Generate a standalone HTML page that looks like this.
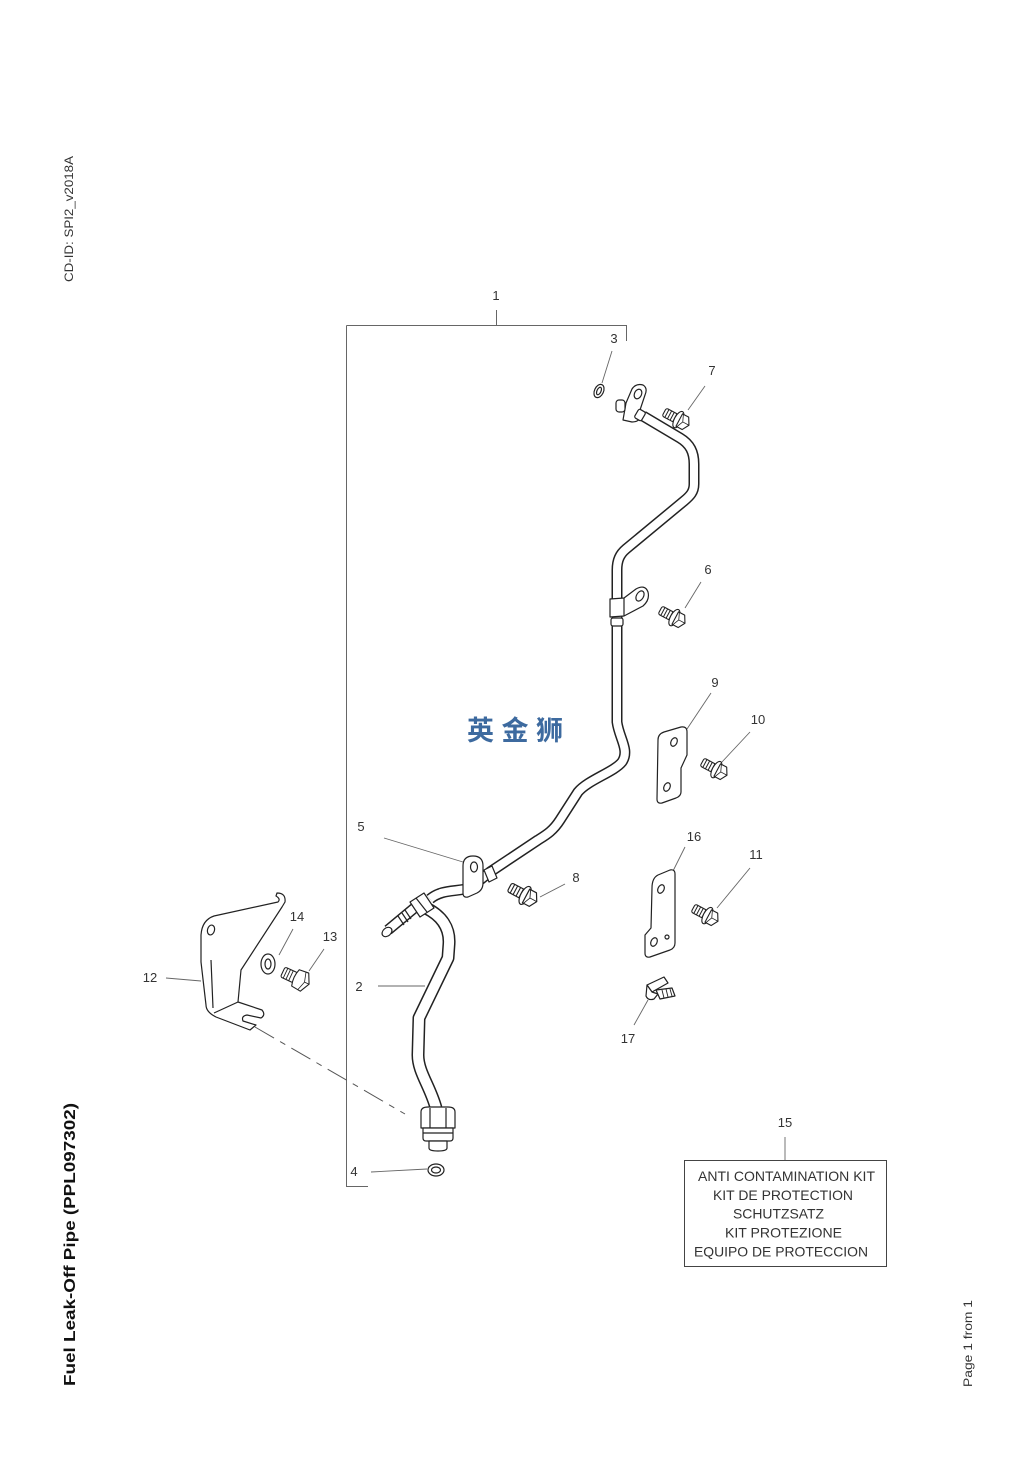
<!DOCTYPE html>
<html><head><meta charset="utf-8"><style>
html,body{margin:0;padding:0;background:#fff;}
svg{display:block;}
text{font-family:"Liberation Sans",Arial,sans-serif;fill:#333;}
</style></head><body>
<svg width="1033" height="1461" viewBox="0 0 1033 1461" xmlns="http://www.w3.org/2000/svg">
<rect width="1033" height="1461" fill="#fff"/>

<!-- side texts -->
<text transform="translate(73,282) rotate(-90)" font-size="12" textLength="126" lengthAdjust="spacingAndGlyphs">CD-ID: SPI2_v2018A</text>
<text transform="translate(75,1386) rotate(-90)" font-size="16" font-weight="bold" textLength="283" lengthAdjust="spacingAndGlyphs" style="fill:#111">Fuel Leak-Off Pipe (PPL097302)</text>
<text transform="translate(972,1387) rotate(-90)" font-size="12" textLength="87" lengthAdjust="spacingAndGlyphs">Page 1 from 1</text>

<!-- bracket for item 1 -->
<g stroke="#666" stroke-width="1" fill="none">
<path d="M346.5 325.5 H626.5 V341"/>
<path d="M496.5 310 V325.5"/>
<path d="M346.5 325.5 V1186.5 H368"/>
</g>

<!-- leaders -->
<g stroke="#666" stroke-width="0.9" fill="none">
<path d="M612 351 L602 383"/>
<path d="M705 386 L688 410"/>
<path d="M701 582 L685 608"/>
<path d="M711 693 L687 729"/>
<path d="M750 732 L721 763"/>
<path d="M685 847 L673 871"/>
<path d="M750 868 L717 908"/>
<path d="M634 1025 L648 1000"/>
<path d="M384 838 L463 862"/>
<path d="M565 884 L540 897"/>
<path d="M293 929 L279 955"/>
<path d="M324 949 L309 971"/>
<path d="M166 978 L201 981"/>
<path d="M378 986 L425 986"/>
<path d="M371 1172 L427 1169"/>
<path d="M785 1137 V1160"/>
</g>

<!-- dash-dot alignment line -->
<path d="M255 1027 L405 1114" stroke="#555" stroke-width="1" fill="none" stroke-dasharray="22 7 6 7"/>

<!-- labels -->
<g font-size="13" text-anchor="middle">
<text x="496" y="300">1</text>
<text x="614" y="343">3</text>
<text x="712" y="375">7</text>
<text x="708" y="574">6</text>
<text x="715" y="687">9</text>
<text x="758" y="724">10</text>
<text x="694" y="841">16</text>
<text x="756" y="859">11</text>
<text x="628" y="1043">17</text>
<text x="361" y="831">5</text>
<text x="576" y="882">8</text>
<text x="297" y="921">14</text>
<text x="330" y="941">13</text>
<text x="150" y="982">12</text>
<text x="359" y="991">2</text>
<text x="354" y="1176">4</text>
<text x="785" y="1127">15</text>
</g>

<!-- kit box -->
<rect x="684.5" y="1160.5" width="202" height="106" fill="none" stroke="#444" stroke-width="1"/>
<g font-size="14">
<text x="698" y="1181" textLength="177" lengthAdjust="spacingAndGlyphs">ANTI CONTAMINATION KIT</text>
<text x="713" y="1200" textLength="140" lengthAdjust="spacingAndGlyphs">KIT DE PROTECTION</text>
<text x="733" y="1218.5" textLength="91" lengthAdjust="spacingAndGlyphs">SCHUTZSATZ</text>
<text x="725" y="1237.5" textLength="117" lengthAdjust="spacingAndGlyphs">KIT PROTEZIONE</text>
<text x="694" y="1256.5" textLength="174" lengthAdjust="spacingAndGlyphs">EQUIPO DE PROTECCION</text>
</g>

<!-- watermark -->
<text x="467" y="740" font-size="27" font-weight="bold" textLength="96" lengthAdjust="spacing" style="font-family:'Noto Sans CJK SC','WenQuanYi Zen Hei',sans-serif;fill:#3d6a9f">英金狮</text>

<!-- ===== pipes ===== -->
<g fill="none" stroke-linecap="butt" stroke-linejoin="round">
<path d="M643 416 L680 438 C690 444 694 452 694 464 L694 484 C694 492 690 496 684 501 L626 549 C620 554 617 560 617 570 L617 722 C619 738 630 750 622 762 C614 772 588 780 578 792 L560 820 C553 831 546 835 538 840 L490 872 L470 888 C456 892 442 889 430 899" stroke="#222" stroke-width="11"/>
<path d="M643 416 L680 438 C690 444 694 452 694 464 L694 484 C694 492 690 496 684 501 L626 549 C620 554 617 560 617 570 L617 722 C619 738 630 750 622 762 C614 772 588 780 578 792 L560 820 C553 831 546 835 538 840 L490 872 L470 888 C456 892 442 889 430 899" stroke="#fff" stroke-width="8"/>
<path d="M426 908 C442 916 450 928 449 944 L448 958 L419 1018 L418 1055 C418 1072 430 1086 436 1108" stroke="#222" stroke-width="13"/>
<path d="M426 908 C442 916 450 928 449 944 L448 958 L419 1018 L418 1055 C418 1072 430 1086 436 1108" stroke="#fff" stroke-width="10"/>
<path d="M418 905 L388 930" stroke="#222" stroke-width="11"/>
<path d="M418 905 L388 930" stroke="#fff" stroke-width="8"/>
</g>

<g stroke="#222" stroke-width="1.2" fill="#fff" stroke-linejoin="round">
<ellipse cx="387" cy="932" rx="4" ry="5.5" transform="rotate(50 387 932)"/>
<path d="M398 916 L404 925" fill="none"/>
<path d="M402 913 L408 922" fill="none"/>
<path d="M405 910 L411 919" fill="none"/>
<path d="M410 902 L424 893 L434 908 L420 917 Z"/>
<path d="M416 898 L427 912" fill="none"/>
<path d="M484 870 L492 866 L497 878 L489 882 Z"/>

<!-- clip 5 -->
<path d="M463 893 L463 866 Q463 856 473 856 Q483 856 483 866 L483 883 Q483 890 477 893 L468 897 Q463 898 463 893 Z"/>
<ellipse cx="474" cy="867" rx="3.5" ry="5"/>

<!-- clip 6 -->
<path d="M610 599 L624 598 L636 589 Q645 584 648 592 Q650 600 643 606 L624 616 L610 617 Z"/>
<path d="M624 598 L624 616" fill="none"/>
<ellipse cx="640" cy="596" rx="3.5" ry="5.5" transform="rotate(30 640 596)"/>
<rect x="611" y="618" width="12" height="8" rx="2"/>

<!-- top flange -->
<path d="M623 420 L626 403 L632 389 Q636 383 643 385 Q648 388 645 395 L640 410 L640 418 Q638 422 632 422 Z"/>
<ellipse cx="638" cy="394" rx="3.5" ry="5" transform="rotate(25 638 394)"/>
<rect x="616" y="400" width="9" height="12" rx="3"/>
<rect x="636" y="410" width="8" height="10" rx="2" transform="rotate(30 640 415)"/>

<!-- nut and fitting -->
<path d="M421 1112 Q421 1107 428 1107 L448 1107 Q455 1107 455 1112 L455 1128 L421 1128 Z"/>
<path d="M430 1108 L430 1128 M446 1108 L446 1128" fill="none"/>
<path d="M423 1128 L453 1128 L453 1138 Q453 1141 450 1141 L426 1141 Q423 1141 423 1138 Z"/>
<path d="M423 1133 L453 1133" fill="none"/>
<path d="M429 1141 L447 1141 L447 1148 Q447 1151 438 1151 Q429 1151 429 1148 Z"/>

<!-- washers -->
<ellipse cx="599" cy="391" rx="4.5" ry="7" transform="rotate(25 599 391)"/>
<ellipse cx="599" cy="391" rx="2" ry="4" transform="rotate(25 599 391)"/>
<ellipse cx="268" cy="964" rx="7" ry="10"/>
<ellipse cx="268" cy="964" rx="3" ry="5"/>
<ellipse cx="436" cy="1170" rx="8" ry="6"/>
<ellipse cx="436" cy="1170" rx="4.5" ry="3"/>

<!-- bracket 9 -->
<path d="M658 740 Q658 734 664 732 L681 727 Q687 726 687 732 L687 755 L681 768 L681 792 Q681 796 676 798 L662 803 Q657 804 657 799 Z"/>
<ellipse cx="674" cy="742" rx="3" ry="4.5" transform="rotate(25 674 742)"/>
<ellipse cx="667" cy="787" rx="3" ry="4.5" transform="rotate(25 667 787)"/>

<!-- bracket 16 -->
<path d="M652 888 Q652 878 658 875 L670 870 Q675 869 675 874 L675 943 Q675 948 670 950 L650 957 Q645 958 645 953 L645 935 L651 928 Z"/>
<ellipse cx="661" cy="889" rx="3" ry="4.5" transform="rotate(25 661 889)"/>
<ellipse cx="654" cy="942" rx="3" ry="4.5" transform="rotate(25 654 942)"/>
<circle cx="667" cy="937" r="2"/>

<!-- clip 17 -->
<path d="M647 985 L664 977 L668 983 L652 992 Z"/>
<path d="M647 985 L646 996 Q648 1001 654 999 L658 994 L652 992 Z"/>
<path d="M656 990 L672 988 L675 996 L660 999 Z"/>
<path d="M662 990 L664 998 M666 989 L668 997 M670 989 L672 996" fill="none" stroke-width="0.9"/>

<!-- bracket 12 -->
<path d="M277 893 Q286 893 285 902 L282 907 L241 970 L238 1002 L262 1010 Q266 1015 261 1018 L247 1015 Q241 1016 243 1021 L256 1025 L250 1030 L216 1017 Q206 1012 206 1005 L201 962 L201 935 Q202 920 214 916 L278 902 Q281 899 276 896 Z"/>
<path d="M211 960 L213 1008 M238 1002 L214 1013" fill="none"/>
<ellipse cx="211" cy="930" rx="3.5" ry="5" transform="rotate(15 211 930)"/>
</g>

<defs>
<g id="bolt">
<rect x="-19" y="-4.5" width="14" height="9" rx="2" fill="#fff" stroke="#222" stroke-width="1.1"/>
<path d="M-16 -4.5 V4.5 M-13 -4.5 V4.5 M-10 -4.5 V4.5 M-7 -4.5 V4.5" stroke="#222" stroke-width="1"/>
<ellipse cx="-3" cy="0" rx="4" ry="9" fill="#fff" stroke="#222" stroke-width="1.1"/>
<path d="M-2 -7 L5 -7 L9 0 L5 7 L-2 7 Z" fill="#fff" stroke="#222" stroke-width="1.1" stroke-linejoin="round"/>
<path d="M-1 -7 L2 0 L-1 7 M2 0 L9 0" fill="none" stroke="#222" stroke-width="0.8"/>
</g>
</defs>
<use href="#bolt" transform="translate(681,421) rotate(28)"/>
<use href="#bolt" transform="translate(677,619) rotate(28)"/>
<use href="#bolt" transform="translate(528,897) rotate(28) scale(1.1)"/>
<use href="#bolt" transform="translate(719,771) rotate(28)"/>
<use href="#bolt" transform="translate(710,917) rotate(28)"/>

<g transform="translate(300,980) rotate(25)" stroke="#222" stroke-width="1.1" fill="#fff">
<rect x="-19" y="-5.5" width="14" height="11" rx="2"/>
<path d="M-16 -5.5 V5.5 M-13 -5.5 V5.5 M-10 -5.5 V5.5" stroke-width="0.9"/>
<path d="M-5 -9 L5 -10 L10 0 L5 10 L-5 9 Q-8 0 -5 -9 Z" stroke-linejoin="round"/>
<path d="M2 -10 L5 0 L2 10 M5 0 L10 0" fill="none" stroke-width="0.8"/>
</g>

</svg>
</body></html>
